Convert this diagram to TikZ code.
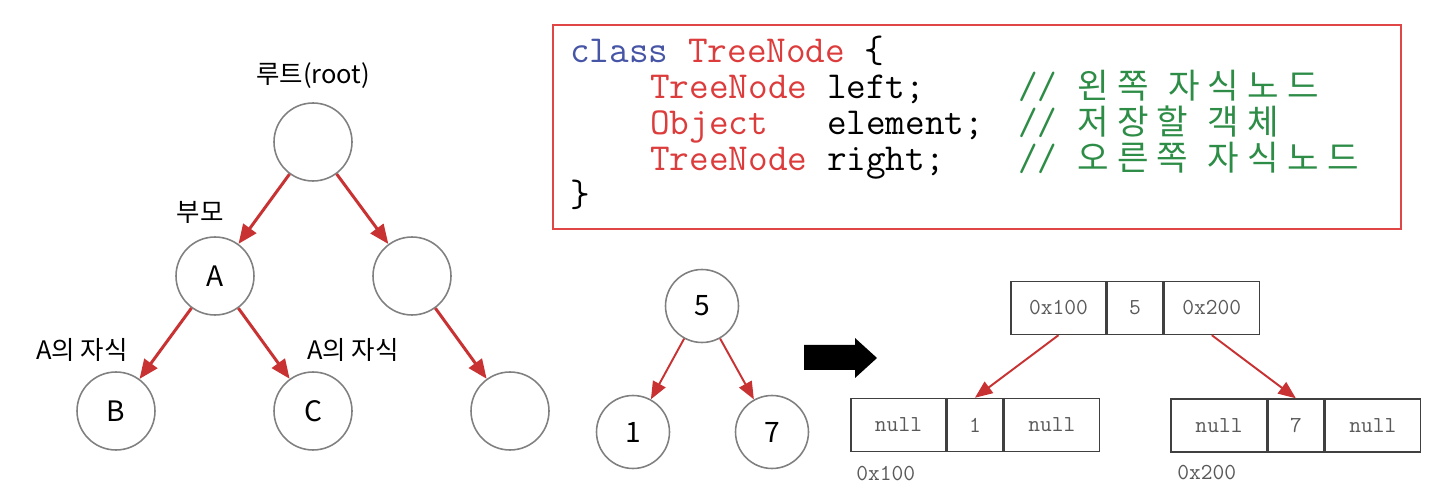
\documentclass[tikz,border=0pt]{standalone}
\usepackage{fontspec}
\setmainfont{Noto Sans CJK KR}
\newfontfamily\kr[LetterSpace=24]{Noto Sans CJK KR}
\usetikzlibrary{arrows.meta,positioning}

\definecolor{edgered}{RGB}{200,50,50}
\definecolor{kwblue}{RGB}{70,85,165}
\definecolor{typered}{RGB}{220,60,60}
\definecolor{cmtgreen}{RGB}{45,140,70}
\definecolor{boxred}{RGB}{225,70,70}

\newcommand{\hg}[1]{{\kr\fontsize{19.5}{19.5}\selectfont #1}}

\tikzset{
  tnode/.style={draw=black!50, line width=0.9pt, circle, minimum size=1.56cm, inner sep=0pt, font=\fontsize{16}{16}\selectfont},
  snode/.style={tnode, minimum size=1.46cm},
  lbl/.style={inner sep=0pt, font=\fontsize{14.5}{15}\selectfont},
  redarrow/.style={draw=edgered, line width=1.7pt, -{Triangle[length=11pt,width=9pt]}},
  thinarrow/.style={draw=edgered, line width=1.1pt, -{Triangle[length=10pt,width=8pt]}},
  cell/.style={draw=black!75, line width=0.8pt, minimum height=1.06cm, inner sep=0pt, text=black!65, font=\ttfamily\fontsize{13}{13}\selectfont},
  addr/.style={anchor=west, inner sep=0pt, text=black!65, font=\ttfamily\fontsize{13}{13}\selectfont},
  codeline/.style={anchor=base west, inner sep=0pt, font=\ttfamily\fontsize{21.7}{22}\selectfont},
  comment/.style={codeline, text=cmtgreen},
}

\begin{document}
\begin{tikzpicture}[x=0.02cm, y=-0.02cm]
\useasboundingbox (0,0) rectangle (1430,496);

% tree with labels
\node[tnode] (root) at (313,142) {};
\node[tnode] (a) at (215,276) {A};
\node[tnode] (rc) at (412,276) {};
\node[tnode] (b) at (116,411) {B};
\node[tnode] (c) at (313,411) {C};
\node[tnode] (rrc) at (510,411) {};
\node[lbl] (rootlbl) at (313,76) {루트(root)};
\node[lbl] (parentlbl) at (200,212) {부모};
\node[lbl] (childlbl1) at (82,350) {A의 자식};
\node[lbl] (childlbl2) at (353,350) {A의 자식};
\draw[redarrow] (root) -- (a);
\draw[redarrow] (root) -- (rc);
\draw[redarrow] (a) -- (b);
\draw[redarrow] (a) -- (c);
\draw[redarrow] (rc) -- (rrc);

% class code
\draw[boxred, line width=1.1pt] (553,25) rectangle (1401,229);
\node[codeline] (code1) at (570,63) {\textcolor{kwblue}{class} \textcolor{typered}{TreeNode} \{};
\node[codeline] (code2) at (650,99) {\textcolor{typered}{TreeNode} left;};
\node[codeline] (code3) at (650,135) {\textcolor{typered}{Object}~~~element;};
\node[codeline] (code4) at (650,171) {\textcolor{typered}{TreeNode} right;};
\node[codeline] (code5) at (570,207) {\}};
\node[comment] (cmt2) at (1018,99) {//~\hg{왼쪽}~\hg{자식노드}};
\node[comment] (cmt3) at (1018,135) {//~\hg{저장할}~\hg{객체}};
\node[comment] (cmt4) at (1018,171) {//~\hg{오른쪽}~\hg{자식노드}};

% small tree
\node[snode] (n5) at (702,306) {5};
\node[snode] (n1) at (633,432) {1};
\node[snode] (n7) at (772,432) {7};
\draw[thinarrow] (n5) -- (n1);
\draw[thinarrow] (n5) -- (n7);

\fill (804,345) -- (855,345) -- (855,338) -- (877,358) -- (855,378) -- (855,370) -- (804,370) -- cycle;

% memory layout
\node[cell, minimum width=1.9cm] (m5l) at (1058.5,308) {0x100};
\node[cell, minimum width=1.1cm, right=0pt of m5l] (m5v) {5};
\node[cell, minimum width=1.92cm, right=0pt of m5v] (m5r) {0x200};

\node[cell, minimum width=1.9cm] (m1l) at (898.5,425) {null};
\node[cell, minimum width=1.1cm, right=0pt of m1l] (m1v) {1};
\node[cell, minimum width=1.92cm, right=0pt of m1v] (m1r) {null};

\node[cell, minimum width=1.92cm] (m7l) at (1219,425.5) {null};
\node[cell, minimum width=1.1cm, right=0pt of m7l] (m7v) {7};
\node[cell, minimum width=1.92cm, right=0pt of m7v] (m7r) {null};

\node[addr] (addr1) at (856,474) {0x100};
\node[addr] (addr2) at (1177,473) {0x200};

\draw[thinarrow] (m5l.south) -- (m1v.north);
\draw[thinarrow] (m5r.south) -- (m7v.north);
\end{tikzpicture}
\end{document}
